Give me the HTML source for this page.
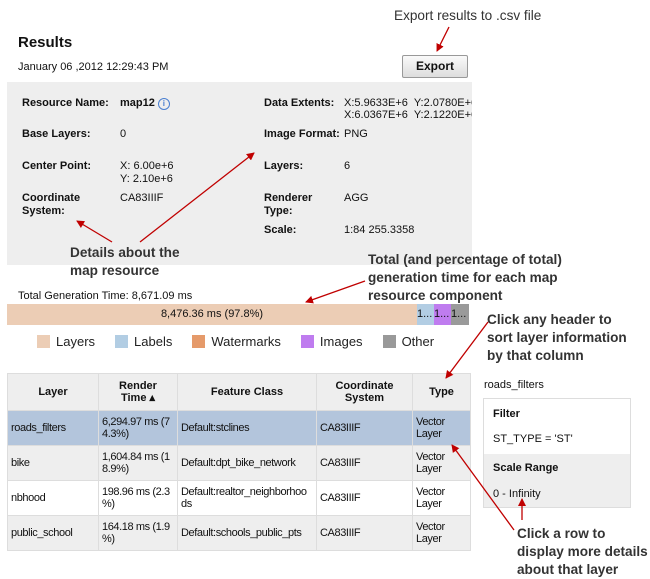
<!DOCTYPE html>
<html><head><meta charset="utf-8"><style>
body{margin:0;width:650px;height:577px;background:#fff;position:relative;overflow:hidden;font-family:"Liberation Sans",Arial,sans-serif;color:#111}
.a{position:absolute;white-space:nowrap}
.ann{position:absolute;font-weight:bold;font-size:13.6px;color:#333;line-height:18px;white-space:nowrap}
.lb{font-weight:bold;font-size:11px}
.v{font-size:11px}
table{border-collapse:collapse;position:absolute;left:7px;top:373px;font-size:11px;table-layout:fixed;width:463px}
td,th{border:1px solid #ddd;padding:0 3px;vertical-align:middle;text-align:left;line-height:12px;overflow:hidden;white-space:nowrap}
td{letter-spacing:-0.4px}
th{background:#eee;text-align:center;font-weight:bold;height:36px}
td{height:34px}
.sw{display:inline-block;width:13px;height:13px;vertical-align:-2px;margin-right:6px}
</style></head><body>
<div class="a" style="left:18px;top:34px;font-size:15px;font-weight:bold">Results</div>
<div class="a" style="left:18px;top:61px;font-size:11px">January 06 ,2012 12:29:43 PM</div>
<div class="a" style="left:402px;top:55px;width:64px;height:21px;border:1px solid #999;border-radius:2px;background:linear-gradient(#fafafa,#ddd);font-size:12px;font-weight:bold;text-align:center;line-height:21px">Export</div>
<div class="ann" style="left:394px;top:7px;font-weight:normal">Export results to .csv file</div>

<div class="a" style="left:7px;top:82px;width:465px;height:183px;background:#eee"></div>
<div class="a lb" style="left:22px;top:97px">Resource Name:</div>
<div class="a lb" style="left:120px;top:97px">map12 <span style="display:inline-block;width:10px;height:10px;border:1px solid #4a7fd0;border-radius:50%;color:#4a7fd0;font-size:8px;line-height:10px;text-align:center;vertical-align:0">i</span></div>
<div class="a lb" style="left:22px;top:128px">Base Layers:</div>
<div class="a v" style="left:120px;top:128px">0</div>
<div class="a lb" style="left:22px;top:160px">Center Point:</div>
<div class="a v" style="left:120px;top:160px;line-height:13px">X: 6.00e+6<br>Y: 2.10e+6</div>
<div class="a lb" style="left:22px;top:192px;line-height:13px">Coordinate<br>System:</div>
<div class="a v" style="left:120px;top:192px">CA83IIIF</div>
<div class="a lb" style="left:264px;top:97px">Data Extents:</div>
<div class="a v" style="left:344px;top:97px;line-height:12px;width:128px;overflow:hidden">X:5.9633E+6&nbsp; Y:2.0780E+6<br>X:6.0367E+6&nbsp; Y:2.1220E+6</div>
<div class="a lb" style="left:264px;top:128px">Image Format:</div>
<div class="a v" style="left:344px;top:128px">PNG</div>
<div class="a lb" style="left:264px;top:160px">Layers:</div>
<div class="a v" style="left:344px;top:160px">6</div>
<div class="a lb" style="left:264px;top:192px;line-height:13px">Renderer<br>Type:</div>
<div class="a v" style="left:344px;top:192px">AGG</div>
<div class="a lb" style="left:264px;top:224px">Scale:</div>
<div class="a v" style="left:344px;top:224px">1:84 255.3358</div>
<div class="ann" style="left:70px;top:244px">Details about the<br>map resource</div>
<div class="ann" style="left:368px;top:251px">Total (and percentage of total)<br>generation time for each map<br>resource component</div>

<div class="a" style="left:18px;top:290px;font-size:11px">Total Generation Time: 8,671.09 ms</div>
<div class="a" style="left:7px;top:304px;width:410px;height:21px;background:#eccdb5;font-size:11px;text-align:center;line-height:21px">8,476.36 ms (97.8%)</div>
<div class="a" style="left:417px;top:304px;width:17px;height:21px;background:#b2cde3;font-size:11px;line-height:21px;overflow:hidden">1...</div>
<div class="a" style="left:434px;top:304px;width:17px;height:21px;background:#bf7cef;font-size:11px;line-height:21px;overflow:hidden">1...</div>
<div class="a" style="left:451px;top:304px;width:18px;height:21px;background:#9a9a9a;font-size:11px;line-height:21px;overflow:hidden">1...</div>
<div class="a" style="left:37px;top:334px;font-size:13px;color:#222">
<span class="sw" style="background:#eccdb5"></span>Layers<span style="display:inline-block;width:20px"></span><span class="sw" style="background:#b2cde3"></span>Labels<span style="display:inline-block;width:20px"></span><span class="sw" style="background:#e59a6a"></span>Watermarks<span style="display:inline-block;width:20px"></span><span class="sw" style="background:#bf7cef"></span>Images<span style="display:inline-block;width:20px"></span><span class="sw" style="background:#999"></span>Other</div>
<div class="ann" style="left:487px;top:311px">Click any header to<br>sort layer information<br>by that column</div>

<table>
<colgroup><col style="width:91px"><col style="width:79px"><col style="width:139px"><col style="width:96px"><col style="width:58px"></colgroup>
<tr><th>Layer</th><th>Render<br>Time ▴</th><th>Feature Class</th><th>Coordinate<br>System</th><th>Type</th></tr>
<tr style="background:#b3c5dc"><td>roads_filters</td><td>6,294.97 ms (7<br>4.3%)</td><td>Default:stclines</td><td>CA83IIIF</td><td>Vector<br>Layer</td></tr>
<tr style="background:#eee"><td>bike</td><td>1,604.84 ms (1<br>8.9%)</td><td>Default:dpt_bike_network</td><td>CA83IIIF</td><td>Vector<br>Layer</td></tr>
<tr><td>nbhood</td><td>198.96 ms (2.3<br>%)</td><td>Default:realtor_neighborhoo<br>ds</td><td>CA83IIIF</td><td>Vector<br>Layer</td></tr>
<tr style="background:#eee"><td>public_school</td><td>164.18 ms (1.9<br>%)</td><td>Default:schools_public_pts</td><td>CA83IIIF</td><td>Vector<br>Layer</td></tr>
</table>

<div class="a" style="left:484px;top:379px;font-size:11px">roads_filters</div>
<div class="a" style="left:483px;top:398px;width:146px;height:108px;border:1px solid #ddd;background:#fff">
<div style="position:absolute;left:0;top:55px;width:146px;height:53px;background:#eee"></div>
<div class="a lb" style="left:9px;top:9px">Filter</div>
<div class="a v" style="left:9px;top:34px">ST_TYPE = 'ST'</div>
<div class="a lb" style="left:9px;top:63px">Scale Range</div>
<div class="a v" style="left:9px;top:89px">0 - Infinity</div>
</div>
<div class="ann" style="left:517px;top:525px">Click a row to<br>display more details<br>about that layer</div>

<svg class="a" style="left:0;top:0" width="650" height="577">
<defs><marker id="ar" markerWidth="8" markerHeight="8" refX="7" refY="4" orient="auto" markerUnits="userSpaceOnUse"><path d="M0,0L8,4L0,8z" fill="#c00000"/></marker></defs>
<g stroke="#c00000" stroke-width="1.3" fill="none" marker-end="url(#ar)">
<line x1="449" y1="27" x2="437" y2="51"/>
<line x1="112" y1="242" x2="77" y2="221"/>
<line x1="140" y1="242" x2="254" y2="153"/>
<line x1="365" y1="281" x2="306" y2="302"/>
<line x1="488" y1="322" x2="446" y2="378"/>
<line x1="514" y1="530" x2="452" y2="445"/>
<line x1="522" y1="520" x2="522" y2="499"/>
</g>
</svg>
</body></html>
